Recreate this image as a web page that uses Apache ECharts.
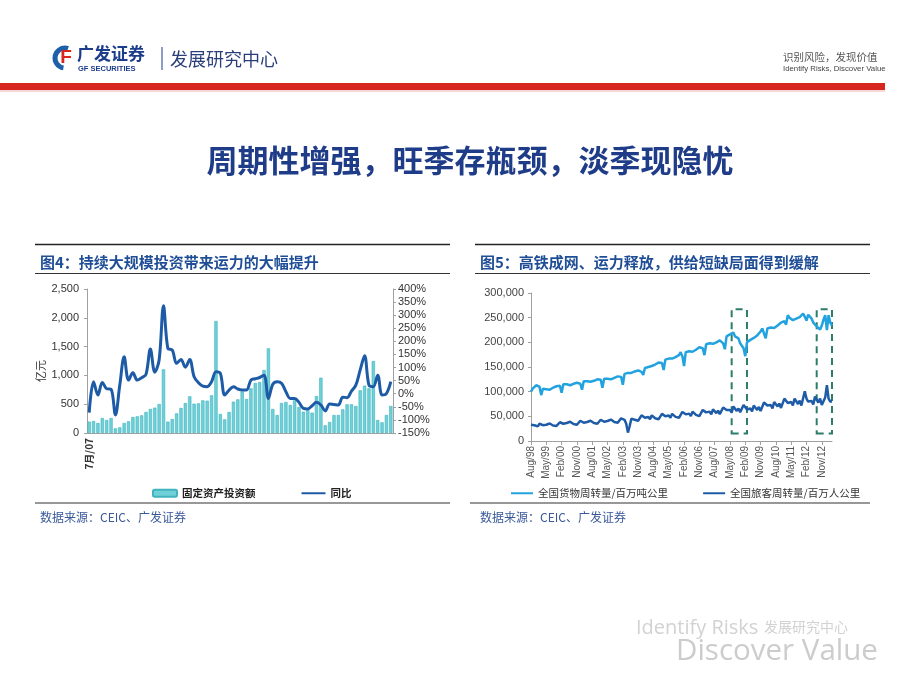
<!DOCTYPE html>
<html>
<head>
<meta charset="utf-8">
<script src="https://cdn.jsdelivr.net/npm/echarts@6/dist/echarts.min.js"></script>
<style>
html,body{margin:0;padding:0;background:#fff;}
#chart{width:920px;height:690px;}
</style>
</head>
<body>
<div id="chart"></div>
<script>
// ---------- Figure 4 data ----------
const leftStart = [2007, 7];      // 7月/07
const fixedInvest = [197, 208, 174, 260, 226, 260, 81, 98, 174, 203,
  278, 289, 307, 365, 417, 440, 503, 1105, 197, 243,
  341, 434, 521, 637, 509, 515, 567, 561, 654, 1944,
  330, 237, 365, 544, 584, 720, 590, 775, 868, 885,
  1094, 1470, 417, 312, 521, 538, 486, 567, 451, 370,
  394, 353, 642, 960, 133, 191, 312, 312, 411, 498,
  498, 469, 741, 822, 775, 1250, 226, 185, 312, 469];
const yoy = [-72, 46, -5, 43, 19, 17, -81, 33, 141, 52,
  80, 52, 61, 74, 171, 82, 129, 336, 173, 167,
  116, 131, 101, 131, 65, 42, 29, 27, 46, 84,
  78, -5, 14, 27, 18, 14, 14, 52, 57, 62,
  71, -18, 36, 46, 40, 8, -18, -18, -33, -56,
  -58, -46, -33, -43, -66, -39, -41, -43, -13, -15,
  10, 33, 91, 145, 33, 27, 71, -5, 1, 46];

// ---------- Figure 5 data ----------
const rightStart = [1998, 8];     // Aug/98
const freight = [
  100000, 106000, 110000, 113000, 115000,
  110000, 93000, 106000, 104000, 105000, 103000, 104000, 106000, 108000, 109000, 111000, 113000,
  112000, 98000, 115000, 114000, 115000, 113000, 113000, 115000, 116000, 117000, 118000, 120000,
  116000, 104000, 121000, 120000, 121000, 119000, 120000, 121000, 122000, 123000, 125000, 127000,
  124000, 108000, 126000, 125000, 126000, 124000, 125000, 127000, 128000, 130000, 131000, 133000,
  130000, 114000, 136000, 137000, 138000, 137000, 138000, 140000, 141000, 142000, 143000, 146000,
  140000, 134000, 148000, 149000, 150000, 150000, 152000, 153000, 155000, 157000, 159000, 162000,
  158000, 144000, 165000, 166000, 167000, 166000, 167000, 169000, 170000, 172000, 174000, 180000,
  172000, 152000, 180000, 182000, 182000, 180000, 181000, 183000, 185000, 187000, 190000, 194000,
  188000, 174000, 196000, 197000, 198000, 196000, 197000, 199000, 200000, 202000, 204000, 208000,
  198000, 186000, 212000, 215000, 216000, 214000, 220000, 212000, 212000, 208000, 198000, 196000,
  188000, 172000, 200000, 202000, 205000, 206000, 209000, 212000, 214000, 218000, 222000, 228000,
  226000, 208000, 228000, 230000, 230000, 228000, 229000, 232000, 234000, 236000, 240000, 244000,
  243000, 236000, 255000, 250000, 248000, 245000, 246000, 248000, 250000, 251000, 254000, 258000,
  252000, 244000, 256000, 252000, 248000, 240000, 236000, 232000, 230000, 226000, 234000, 246000,
  255000, 225000, 255000, 240000, 234000];
const passenger = [
  33000, 30000, 32000, 28500, 29500,
  35000, 37000, 32000, 31000, 33000, 30000, 35500, 36000, 31500, 34000, 30500, 30500,
  38000, 40000, 35000, 34000, 36500, 33000, 39000, 40000, 34500, 37500, 33000, 33500,
  41000, 43000, 37000, 36000, 38500, 35000, 41000, 42000, 36500, 39500, 35000, 35500,
  43000, 45000, 39000, 37500, 40500, 37000, 43500, 45000, 38500, 42000, 37000, 37500,
  46000, 50000, 43000, 35000, 17000, 30000, 45000, 49000, 43000, 46000, 41000, 41000,
  52000, 56000, 47000, 45000, 48500, 44000, 52000, 55000, 46000, 50000, 44000, 44500,
  55000, 58000, 50000, 48000, 51500, 47000, 55000, 58000, 49000, 53000, 47000, 47500,
  59000, 62000, 54000, 52000, 55500, 50500, 59500, 62000, 53000, 57000, 50500, 51000,
  63000, 66000, 58000, 55500, 59500, 54000, 64000, 66000, 56500, 61500, 54500, 55000,
  68000, 68000, 63000, 60000, 63000, 58000, 70000, 72000, 61000, 66000, 58500, 59000,
  73000, 70000, 64000, 61000, 66000, 60000, 72000, 74000, 63000, 69000, 61000, 62000,
  78000, 82000, 72000, 68000, 73000, 66000, 79000, 82000, 70000, 76000, 67000, 68000,
  86000, 88000, 77000, 74000, 79000, 72000, 86000, 90000, 75000, 82000, 72000, 73000,
  101000, 86000, 80000, 76000, 81000, 74000, 90000, 94000, 78000, 86000, 73000, 74000,
  88000, 113000, 86000, 80000, 80000];
const boxMonths = [['Jun/08', 'Mar/09'], ['Aug/12', 'May/13']];
const boxRange = [15000, 267000];

const enMonths = ['Jan','Feb','Mar','Apr','May','Jun','Jul','Aug','Sep','Oct','Nov','Dec'];
function monthCats(start, n, fmt) {
  const out = [];
  let y = start[0], m = start[1];
  for (let i = 0; i < n; i++) {
    out.push(fmt(y, m));
    m++; if (m > 12) { m = 1; y++; }
  }
  return out;
}
const catL = monthCats(leftStart, fixedInvest.length, (y, m) => m + '月/' + String(y % 100).padStart(2, '0'));
const catR = monthCats(rightStart, freight.length, (y, m) => enMonths[m - 1] + '/' + String(y % 100).padStart(2, '0'));

const NUM = 'Arial, "Liberation Sans", sans-serif';
const CJK = '"Noto Sans CJK SC", "Noto Sans", sans-serif';
const fmtComma = v => String(v).replace(/\B(?=(\d{3})+(?!\d))/g, ',');
const axisGray = '#a0a0a0';

function txt(text, x, y, size, fill, opts) {
  opts = opts || {};
  return {
    type: 'text', silent: true, rotation: opts.rotation || 0, x: x, y: y,
    style: {
      text: text, fill: fill, fontSize: size,
      fontWeight: opts.weight || 'normal',
      fontFamily: opts.family || CJK,
      align: opts.align || 'left', verticalAlign: 'middle'
    }
  };
}
function hline(x1, x2, y, color, w) {
  return { type: 'line', silent: true, shape: { x1: x1, y1: y, x2: x2, y2: y }, style: { stroke: color, lineWidth: w } };
}

const chart = echarts.init(document.getElementById('chart'), null, { renderer: 'canvas' });
const option = {
  backgroundColor: '#ffffff',
  animation: false,
  textStyle: { fontFamily: NUM },
  grid: [
    { left: 87, top: 289, width: 306, height: 144 },
    { left: 531, top: 293, width: 301, height: 148 }
  ],
  xAxis: [
    {
      gridIndex: 0, type: 'category', data: catL, boundaryGap: true,
      axisLine: { lineStyle: { color: axisGray } }, axisTick: { show: false },
      axisLabel: { interval: 1000, rotate: 90, fontSize: 10, fontWeight: 'bold', color: '#333', margin: 5, fontFamily: CJK }
    },
    {
      gridIndex: 1, type: 'category', data: catR, boundaryGap: false,
      axisLine: { lineStyle: { color: axisGray } },
      axisTick: { show: true, interval: 8, length: 4, lineStyle: { color: axisGray } },
      axisLabel: { interval: 8, rotate: 90, fontSize: 10, color: '#555', margin: 5 }
    }
  ],
  yAxis: [
    {
      gridIndex: 0, type: 'value', min: 0, max: 2500, interval: 500,
      axisLine: { show: true, lineStyle: { color: axisGray } },
      axisTick: { show: true, length: 3, lineStyle: { color: axisGray } },
      splitLine: { show: false },
      axisLabel: { fontSize: 11, color: '#333', margin: 8, formatter: fmtComma }
    },
    {
      gridIndex: 0, type: 'value', position: 'right', min: -150, max: 400, interval: 50,
      axisLine: { show: true, lineStyle: { color: axisGray } },
      axisTick: { show: true, length: 3, lineStyle: { color: axisGray } },
      splitLine: { show: false },
      axisLabel: { fontSize: 11, color: '#333', margin: 5, formatter: v => v + '%' }
    },
    {
      gridIndex: 1, type: 'value', min: 0, max: 300000, interval: 50000,
      axisLine: { show: true, lineStyle: { color: axisGray } },
      axisTick: { show: true, length: 3, lineStyle: { color: axisGray } },
      splitLine: { show: false },
      axisLabel: { fontSize: 11, color: '#444', margin: 7, formatter: fmtComma }
    }
  ],
  legend: [
    {
      left: 147, top: 483, itemWidth: 24, itemHeight: 7, itemGap: 45,
      textStyle: { fontSize: 10.5, color: '#222', fontFamily: CJK, fontWeight: 'bold' },
      data: ['固定资产投资额', { name: '同比', itemStyle: { opacity: 0 } }]
    },
    {
      left: 505, top: 483, itemWidth: 22, itemHeight: 7, itemGap: 34,
      itemStyle: { opacity: 0 },
      textStyle: { fontSize: 10.5, color: '#333', fontFamily: CJK },
      data: ['全国货物周转量/百万吨公里', '全国旅客周转量/百万人公里']
    }
  ],
  series: [
    {
      name: '固定资产投资额', type: 'bar', xAxisIndex: 0, yAxisIndex: 0,
      data: fixedInvest, barCategoryGap: '25%',
      itemStyle: { color: '#6fd0d7', borderColor: '#3fb3bf', borderWidth: 0.6 }
    },
    {
      name: '同比', type: 'line', xAxisIndex: 0, yAxisIndex: 1, data: yoy,
      smooth: 0.35, symbol: 'none',
      lineStyle: { color: '#1d5ba6', width: 3 }, itemStyle: { color: '#1d5ba6' }
    },
    {
      name: '全国货物周转量/百万吨公里', type: 'line', xAxisIndex: 1, yAxisIndex: 2, data: freight,
      symbol: 'none', lineStyle: { color: '#22a3df', width: 2.5 }, itemStyle: { color: '#22a3df' },
      markArea: {
        silent: true,
        itemStyle: { color: 'rgba(0,0,0,0)', borderColor: '#2e7d6b', borderWidth: 2, borderType: [7, 5] },
        data: boxMonths.map(b => [{ xAxis: b[0], yAxis: boxRange[0] }, { xAxis: b[1], yAxis: boxRange[1] }])
      }
    },
    {
      name: '全国旅客周转量/百万人公里', type: 'line', xAxisIndex: 1, yAxisIndex: 2, data: passenger,
      symbol: 'none', lineStyle: { color: '#1f5ca8', width: 2.5 }, itemStyle: { color: '#1f5ca8' }
    }
  ],
  graphic: [
    // header logo
    { type: 'arc', silent: true, shape: { cx: 65, cy: 58, r: 10, startAngle: Math.PI * 0.55, endAngle: Math.PI * 1.6 },
      style: { stroke: '#1e5fa9', lineWidth: 5, fill: null } },
    txt('F', 66, 58, 19, '#d7261e', { weight: 'bold', family: NUM, align: 'center' }),
    txt('广发证券', 77, 54, 17, '#1c3c8c', { weight: 'bold' }),
    txt('GF SECURITIES', 78, 69, 7.5, '#1c3c8c', { weight: 'bold', family: NUM }),
    { type: 'line', silent: true, shape: { x1: 162, y1: 47, x2: 162, y2: 70 }, style: { stroke: '#1c3c8c', lineWidth: 1 } },
    txt('发展研究中心', 170, 59, 18, '#2a3f7a'),
    txt('识别风险，发现价值', 783, 57, 10.5, '#555'),
    txt('Identify Risks, Discover Value', 783, 69, 7.8, '#444', { family: NUM }),
    { type: 'rect', silent: true, shape: { x: 0, y: 83, width: 885, height: 7 }, style: { fill: '#d7261e' } },
    { type: 'rect', silent: true, shape: { x: 0, y: 90, width: 885, height: 2 }, style: { fill: '#f6d6d6' } },
    // main title
    txt('周期性增强，旺季存瓶颈，淡季现隐忧', 470, 160, 31, '#1f3c88', { weight: 'bold', align: 'center' }),
    // left panel frame
    hline(35, 450, 244.5, '#222', 1.5),
    txt('图4：持续大规模投资带来运力的大幅提升', 40, 262, 15, '#1f4e96', { weight: 'bold' }),
    hline(35, 450, 273.5, '#333', 1.2),
    txt('亿元', 41, 371, 11, '#333', { rotation: Math.PI / 2, align: 'center' }),
    hline(35, 450, 503, '#333', 1.2),
    txt('数据来源：CEIC、广发证券', 40, 517, 12, '#3a5a9a'),
    // right panel frame
    hline(475, 870, 244.5, '#222', 1.5),
    txt('图5：高铁成网、运力释放，供给短缺局面得到缓解', 480, 262, 15, '#1f4e96', { weight: 'bold' }),
    hline(475, 870, 273.5, '#333', 1.2),
    hline(470, 870, 503, '#333', 1.2),
    txt('数据来源：CEIC、广发证券', 480, 517, 12, '#3a5a9a'),
    // watermark
    txt('Identify Risks', 636, 628, 20, '#d2d2d2', { family: '"Open Sans", sans-serif' }),
    txt('发展研究中心', 764, 627, 14, '#d2d2d2'),
    txt('Discover Value', 676, 652, 29.5, '#cccccc', { family: '"Open Sans", sans-serif' })
  ]
};
chart.setOption(option);
</script>
</body>
</html>
